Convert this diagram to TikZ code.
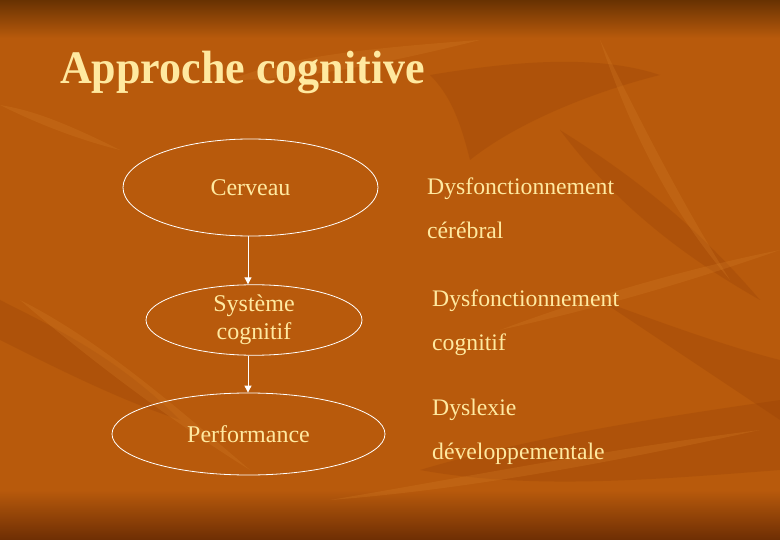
\documentclass[tikz,border=0pt]{standalone}
\usepackage{fontspec}
\setmainfont{Liberation Serif}
\usetikzlibrary{shapes.geometric,arrows.meta}
\definecolor{bgmain}{RGB}{184,90,12}
\definecolor{bgtop}{RGB}{104,50,2}
\definecolor{bgbot}{RGB}{110,46,4}
\definecolor{leafdark}{RGB}{150,64,6}
\definecolor{leaflight}{RGB}{214,128,40}
\definecolor{cream}{RGB}{255,233,160}
\tikzset{
  oval/.style={draw=white, line width=0.8pt, ellipse, inner sep=0pt, text=cream,
    font=\fontsize{24}{28}\selectfont, align=center},
  rtext/.style={anchor=base west, text=cream, inner sep=0pt,
    font=\fontsize{23.7}{44}\selectfont, align=left},
  link/.style={draw=white, line width=0.9pt, -{Triangle[width=7pt,length=7pt]}}
}
\begin{document}
\begin{tikzpicture}[x=1pt,y=-1pt]
\useasboundingbox (0,0) rectangle (780,540);
% background
\fill[bgmain] (0,0) rectangle (780,540);
\shade[top color=bgtop, bottom color=bgmain] (0,0) rectangle (780,38);
\shade[top color=bgmain, bottom color=bgbot] (0,490) rectangle (780,540);
% decorative leaves
\begin{scope}[opacity=0.28]
\fill[leafdark] (430,75) .. controls (520,60) and (600,55) .. (660,75) .. controls (600,90) and (520,120) .. (470,160) .. controls (460,120) and (450,95) .. (430,75) -- cycle;
\fill[leafdark] (560,130) .. controls (640,180) and (700,230) .. (760,300) .. controls (690,260) and (620,210) .. (560,130) -- cycle;
\fill[leafdark] (0,300) .. controls (60,330) and (120,360) .. (180,420) .. controls (120,400) and (60,370) .. (0,340) -- cycle;
\fill[leafdark] (420,470) .. controls (520,440) and (640,420) .. (780,400) -- (780,470) .. controls (650,480) and (530,490) .. (420,470) -- cycle;
\fill[leafdark] (600,300) .. controls (680,330) and (740,350) .. (780,360) -- (780,420) .. controls (720,380) and (660,340) .. (600,300) -- cycle;
\end{scope}
\begin{scope}[opacity=0.25]
\fill[leaflight] (230,80) .. controls (280,60) and (340,50) .. (480,40) .. controls (360,70) and (290,80) .. (230,80) -- cycle;
\fill[leaflight] (20,300) .. controls (100,340) and (180,410) .. (250,470) .. controls (170,420) and (90,360) .. (20,300) -- cycle;
\fill[leaflight] (600,40) .. controls (640,120) and (680,200) .. (730,280) .. controls (670,210) and (630,130) .. (600,40) -- cycle;
\fill[leaflight] (500,330) .. controls (580,300) and (680,270) .. (780,250) .. controls (680,285) and (590,310) .. (500,330) -- cycle;
\fill[leaflight] (330,500) .. controls (450,480) and (600,450) .. (760,430) .. controls (600,465) and (460,490) .. (330,500) -- cycle;
\fill[leaflight] (120,150) .. controls (60,120) and (30,110) .. (0,105) .. controls (40,125) and (80,140) .. (120,150) -- cycle;
\end{scope}
% title
\node[anchor=base west, inner sep=0pt, text=cream, yscale=1.06,
  font=\bfseries\fontsize{44}{48}\selectfont] (title) at (60,84) {Approche cognitive};
% ovals
\node[oval, minimum width=255pt, minimum height=97pt] (cerveau) at (250.5,187.5) {Cerveau};
\node[oval, minimum width=216pt, minimum height=66pt] (systeme) at (254,320) {Syst\`eme\\cognitif};
\node[oval, minimum width=273pt, minimum height=82pt] (perf) at (248.5,434) {Performance};
% connectors
\draw[link] (cerveau.south -| 248,0) -- (systeme.north -| 248,0);
\draw[link] (systeme.south -| 248,0) -- (perf.north -| 248,0);
% right texts (base = baseline of last line)
\node[rtext] (t1) at (427,239) {Dysfonctionnement\\c\'er\'ebral};
\node[rtext] (t2) at (432,351) {Dysfonctionnement\\cognitif};
\node[rtext] (t3) at (432,459) {Dyslexie\\d\'eveloppementale};
\end{tikzpicture}
\end{document}
